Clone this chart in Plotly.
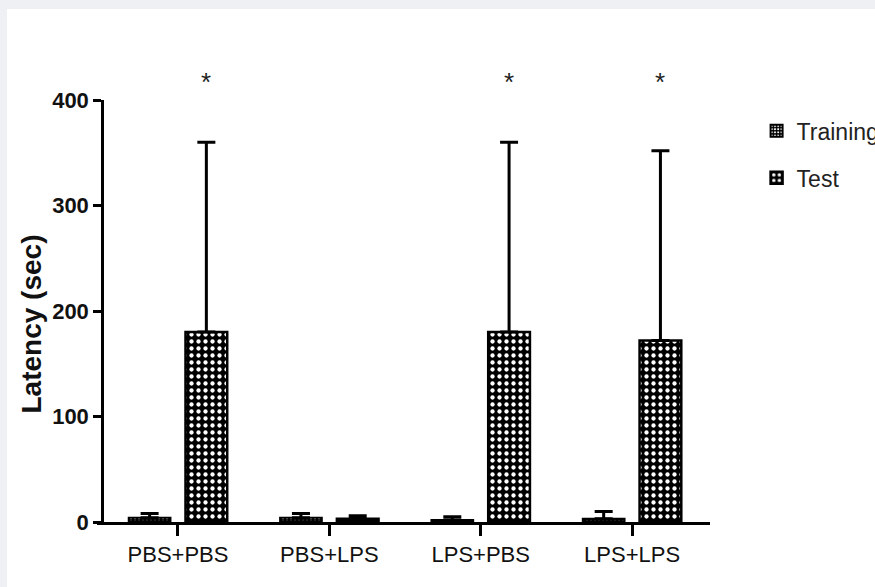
import plotly.graph_objects as go

categories = ["PBS+PBS", "PBS+LPS", "LPS+PBS", "LPS+LPS"]
training_mean = [4, 4, 2, 3]
training_err = [4, 4, 3, 7]
test_mean = [180, 3, 180, 172]
test_err = [180, 3, 180, 180]
significance = ["*", "", "*", "*"]
y_ticks = [0, 100, 200, 300, 400]

FONT = "Liberation Sans, Arial, sans-serif"

fig = go.Figure()
fig.add_trace(go.Bar(
    name="Training", x=categories, y=training_mean,
    error_y=dict(type="data", array=training_err, arrayminus=[0] * 4, symmetric=False,
                 color="black", thickness=3, width=9),
    marker=dict(color="black", line=dict(color="black", width=2),
                pattern=dict(shape=".", bgcolor="black", fgcolor="white", size=4, solidity=0.3,
                             fillmode="replace")),
    legendgroup="a",
))
fig.add_trace(go.Bar(
    name="Test", x=categories, y=test_mean,
    error_y=dict(type="data", array=test_err, arrayminus=[0] * 4, symmetric=False,
                 color="black", thickness=3, width=9),
    marker=dict(color="black", line=dict(color="black", width=2.5),
                pattern=dict(shape=".", bgcolor="black", fgcolor="white", size=7, solidity=0.3,
                             fillmode="replace")),
    legendgroup="b",
))

for cat, sig in zip(categories, significance):
    if sig:
        fig.add_annotation(x=cat, y=1.082, xref="x", yref="y domain", text=sig, showarrow=False,
                           xshift=28, font=dict(family=FONT, size=26, color="#222"))

# y-axis title as rotated text
fig.add_annotation(x=-0.107, y=0.469, xref="paper", yref="paper", text="<b>Latency (sec)</b>",
                   textangle=-90, showarrow=False, xanchor="center", yanchor="middle",
                   font=dict(family=FONT, size=28, color="#111"))

fig.update_layout(
    width=875, height=587,
    margin=dict(l=97, r=165, t=100, b=65, autoexpand=False),
    paper_bgcolor="#eef0f3",
    plot_bgcolor="rgba(0,0,0,0)",
    barmode="group", bargap=0.25, bargroupgap=0.265,
    showlegend=True,
    legend=dict(x=1.076, y=0.978, xanchor="left", yanchor="top",
                font=dict(family=FONT, size=23, color="#222"),
                traceorder="grouped", tracegroupgap=14, bgcolor="rgba(0,0,0,0)"),
    shapes=[dict(type="rect", xref="paper", yref="paper", x0=-0.1468, x1=1.3, y0=-0.2, y1=1.2156,
                 fillcolor="white", line=dict(width=0), layer="below")],
    xaxis=dict(range=[-0.535, 3.515], showline=True, linecolor="black", linewidth=3,
               ticks="outside", ticklen=11, tickwidth=2.5, tickcolor="black",
               showgrid=False, zeroline=False,
               tickfont=dict(family=FONT, size=22, color="#111")),
    yaxis=dict(range=[0, 400], tickvals=y_ticks, showline=True, linecolor="black", linewidth=3,
               anchor="free", position=0.0086,
               ticks="outside", ticklen=8, tickwidth=2.5, tickcolor="black",
               showgrid=False, zeroline=False,
               tickfont=dict(family=FONT, size=22, color="#111", weight="bold")),
)

fig.write_html("out.html")
